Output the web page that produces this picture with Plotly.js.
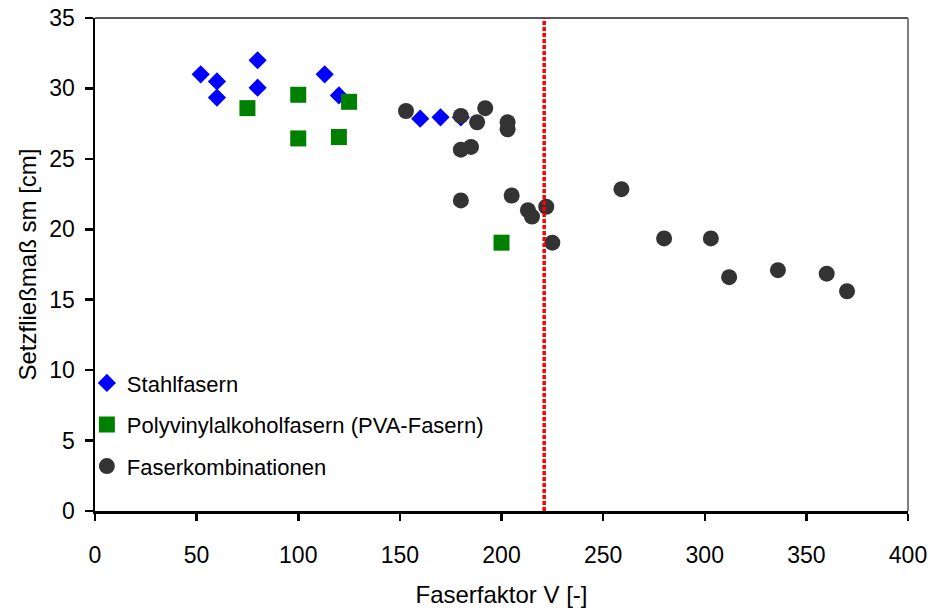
<!DOCTYPE html>
<html>
<head>
<meta charset="utf-8">
<script src="https://cdn.plot.ly/plotly-3.0.1.min.js"></script>
<style>
  html, body { margin: 0; padding: 0; background: #fff; }
  #chart { width: 931px; height: 614px; }
</style>
</head>
<body>
<div id="chart"></div>
<script>
// Stahlfasern
const steelX = [52, 60, 60, 80, 80, 113, 120, 160, 170, 180];
const steelY = [31.0, 30.5, 29.35, 32.0, 30.05, 31.0, 29.5, 27.85, 27.95, 27.95];
// Polyvinylalkoholfasern (PVA-Fasern)
const pvaX = [75, 100, 100, 120, 125, 200];
const pvaY = [28.6, 29.55, 26.45, 26.55, 29.05, 19.05];
// Faserkombinationen
const comboX = [153, 180, 192, 188, 203, 203, 180, 185, 180, 205, 213, 215, 222, 225, 259, 280, 303, 312, 336, 360, 370];
const comboY = [28.4, 28.05, 28.6, 27.6, 27.6, 27.1, 25.65, 25.85, 22.05, 22.4, 21.35, 20.9, 21.6, 19.05, 22.85, 19.35, 19.35, 16.6, 17.1, 16.85, 15.6];
// Grenzwert (rote Linie)
const limitX = [221];

const seriesNames = ['Stahlfasern', 'Polyvinylalkoholfasern (PVA-Fasern)', 'Faserkombinationen'];
const xTicks = [0, 50, 100, 150, 200, 250, 300, 350, 400];
const yTicks = [0, 5, 10, 15, 20, 25, 30, 35];

const FONT = 'Liberation Sans, Arial, sans-serif';

const traces = [
  { x: steelX, y: steelY, name: seriesNames[0], legendgroup: 'a', type: 'scatter', mode: 'markers',
    marker: { symbol: 'diamond', size: 14, color: '#0000FF' } },
  { x: pvaX, y: pvaY, name: seriesNames[1], legendgroup: 'b', type: 'scatter', mode: 'markers',
    marker: { symbol: 'square', size: 16, color: '#008000' } },
  { x: comboX, y: comboY, name: seriesNames[2], legendgroup: 'c', type: 'scatter', mode: 'markers',
    marker: { symbol: 'circle', size: 16, color: '#333333' } }
];

const layout = {
  width: 931, height: 614,
  margin: { l: 95, r: 22.5, t: 18, b: 103 },
  paper_bgcolor: '#ffffff', plot_bgcolor: '#ffffff',
  font: { family: FONT, size: 22, color: '#000' },
  showlegend: true,
  legend: {
    x: -0.010, y: 0.302, xanchor: 'left', yanchor: 'top',
    bgcolor: 'rgba(0,0,0,0)', font: { family: FONT, size: 22, color: '#000' },
    traceorder: 'grouped', tracegroupgap: 10
  },
  xaxis: {
    range: [0, 400], tickvals: xTicks, ticktext: xTicks.map(String),
    showgrid: false, zeroline: false,
    showline: true, linecolor: '#000', linewidth: 2.5,
    ticks: 'outside', ticklen: 7, tickwidth: 2.5, tickcolor: '#000',
    ticklabelstandoff: 15,
    tickfont: { family: FONT, size: 23, color: '#000' },
    title: { text: 'Faserfaktor V [-]', font: { family: FONT, size: 24, color: '#000' }, standoff: 19 }
  },
  yaxis: {
    range: [0, 35], tickvals: yTicks, ticktext: yTicks.map(String),
    showgrid: false, zeroline: false,
    showline: true, linecolor: '#000', linewidth: 2.5,
    ticks: 'outside', ticklen: 8, tickwidth: 2.5, tickcolor: '#000',
    ticklabelstandoff: 5,
    tickfont: { family: FONT, size: 23, color: '#000' },
    title: { text: 'Setzfließmaß sm [cm]', font: { family: FONT, size: 24, color: '#000' }, standoff: 6 }
  },
  shapes: [
    { type: 'line', xref: 'paper', yref: 'paper', x0: 0, x1: 1, y0: 1, y1: 1,
      line: { color: '#222', width: 1.5 } },
    { type: 'line', xref: 'paper', yref: 'paper', x0: 1, x1: 1, y0: 0, y1: 1,
      line: { color: '#808080', width: 2 } },
    { type: 'line', xref: 'x', yref: 'paper', x0: limitX[0], x1: limitX[0], y0: 0, y1: 1,
      line: { color: '#FF0000', width: 3.5, dash: '4px,2px' } }
  ]
};

Plotly.newPlot('chart', traces, layout, { displayModeBar: false, staticPlot: true });
</script>
</body>
</html>
